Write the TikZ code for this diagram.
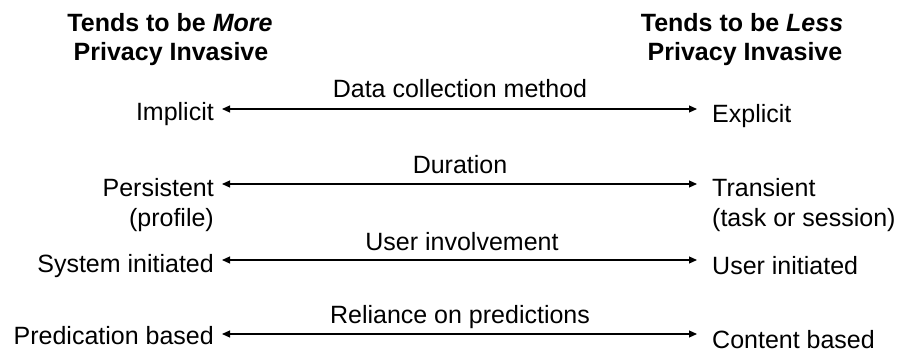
\documentclass[tikz,border=0pt]{standalone}
\usepackage{fontspec}
\setmainfont{Liberation Sans}
\usetikzlibrary{arrows.meta}
\tikzset{
  txt/.style={inner sep=0pt, font=\fontsize{25}{30}\selectfont},
  hdr/.style={inner sep=0pt, anchor=base, font=\fontsize{25}{30}\selectfont\bfseries},
  lefttxt/.style={txt, anchor=base east},
  righttxt/.style={txt, anchor=base west},
  axislabel/.style={txt, anchor=base},
  dimline/.style={draw=black, line width=1.2pt, {Triangle[length=8pt,width=7pt]}-{Triangle[length=8pt,width=7pt]}}
}
\begin{document}
\begin{tikzpicture}[x=1pt,y=-1pt]
\useasboundingbox (0,0) rectangle (898,353);
% headers
\node[hdr] (hl1) at (170,32) {Tends to be \textit{More}};
\node[hdr] (hl2) at (171,61) {Privacy Invasive};
\node[hdr] (hr1) at (742,32) {Tends to be \textit{Less}};
\node[hdr] (hr2) at (745,61) {Privacy Invasive};
% row 1
\node[axislabel] (lab1) at (460,98) {Data collection method};
\node[lefttxt] (l1) at (214,121) {Implicit};
\node[righttxt] (r1) at (712,122) {Explicit};
\coordinate (a1l) at (222,109);
\coordinate (a1r) at (697,109);
\draw[dimline] (a1l) -- (a1r);
% row 2
\node[axislabel] (lab2) at (460,173) {Duration};
\node[lefttxt] (l2) at (214,196) {Persistent};
\node[lefttxt] (l2b) at (214,226) {(profile)};
\node[righttxt] (r2) at (712,196) {Transient};
\node[righttxt] (r2b) at (712,226) {(task or session)};
\coordinate (a2l) at (222,184);
\coordinate (a2r) at (697,184);
\draw[dimline] (a2l) -- (a2r);
% row 3
\node[axislabel] (lab3) at (462,250) {User involvement};
\node[lefttxt] (l3) at (214,272) {System initiated};
\node[righttxt] (r3) at (712,274) {User initiated};
\coordinate (a3l) at (222,260);
\coordinate (a3r) at (697,260);
\draw[dimline] (a3l) -- (a3r);
% row 4
\node[axislabel] (lab4) at (460,323) {Reliance on predictions};
\node[lefttxt] (l4) at (214,344) {Predication based};
\node[righttxt] (r4) at (712,348) {Content based};
\coordinate (a4l) at (222,334);
\coordinate (a4r) at (697,334);
\draw[dimline] (a4l) -- (a4r);
\end{tikzpicture}
\end{document}
